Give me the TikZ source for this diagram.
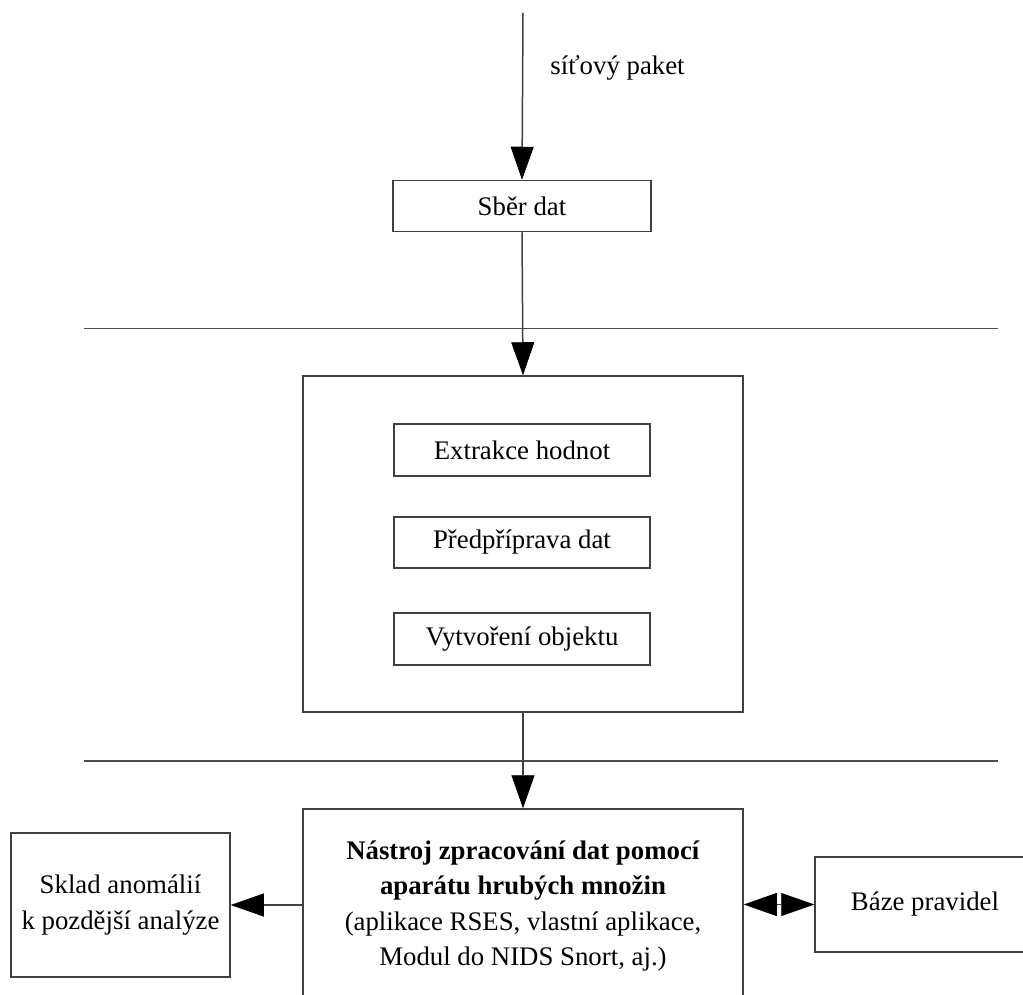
\documentclass[tikz,border=0pt]{standalone}
\usepackage{fontspec}
\setmainfont{Liberation Serif}
\usetikzlibrary{arrows.meta}
\begin{document}
\begin{tikzpicture}[x=0.5pt,y=-0.5pt,
  every node/.style={font=\fontsize{13.4}{17.75}\selectfont},
  boxstyle/.style={draw=black!75, line width=0.75pt, fill=none, inner sep=0pt, align=center},
  tip/.tip={Triangle[length=16.5pt,width=11.5pt,color=black,fill=black,line width=0.4pt]},
  conn/.style={draw=black!75, line width=0.75pt, -tip},
  dconn/.style={draw=black!75, line width=0.75pt, tip-tip},
  sepline/.style={draw=black!70, line width=0.75pt}
]
\clip (0,0) rectangle (1023,995);
\fill[white] (0,0) rectangle (1023,995);

\coordinate (in) at (523,13);
\node[boxstyle, minimum width=129pt, minimum height=25.5pt] (sber) at (522,206) {Sběr dat};
\node[anchor=west, inner sep=0pt] (lbl) at (550,68) {síťový paket};

\node[boxstyle, minimum width=220pt, minimum height=168pt] (big) at (523,544) {};
\node[boxstyle, minimum width=128pt, minimum height=26pt] (ext) at (522,450) {Extrakce hodnot};
\node[boxstyle, minimum width=128pt, minimum height=25.5pt] (pred) at (522,542.5) {Předpříprava dat};
\node[boxstyle, minimum width=128pt, minimum height=26pt] (vyt) at (522,639) {Vytvoření objektu};

\node[boxstyle, minimum width=220pt, minimum height=97pt] (nas) at (523,906)
  {\textbf{Nástroj zpracování dat pomocí}\\\textbf{aparátu hrubých množin}\\(aplikace RSES, vlastní aplikace,\\Modul do NIDS Snort, aj.)};
\node[boxstyle, minimum width=109.5pt, minimum height=72pt] (sklad) at (120.5,905)
  {Sklad anomálií\\k pozdější analýze};
\node[boxstyle, minimum width=110pt, minimum height=47.5pt] (baze) at (925,904.5) {Báze pravidel};

\draw[sepline] (84,328.5) -- (998,328.5);
\draw[sepline] (84,761) -- (998,761);

\draw[conn] (in) -- (sber.north);
\draw[conn] (sber.south) -- (big.north);
\draw[conn] (big.south) -- (nas.north);
\draw[conn] (nas.west |- sklad.east) -- (sklad.east);
\draw[dconn] (nas.east |- baze.west) -- (baze.west);
\end{tikzpicture}
\end{document}
